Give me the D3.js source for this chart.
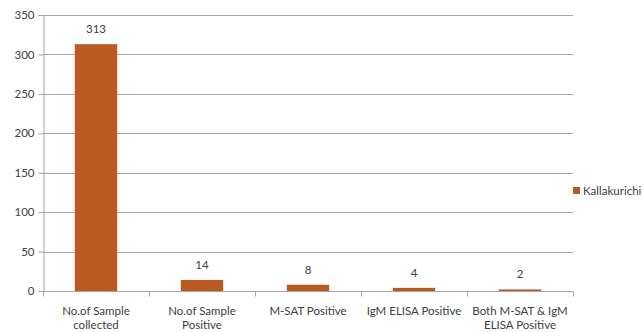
<!DOCTYPE html>
<html>
<head>
<meta charset="utf-8">
<script src="https://cdn.jsdelivr.net/npm/d3@7"></script>
<style>
  html, body { margin: 0; padding: 0; background: #fff; }
  svg text { font-family: Lato, "Open Sans", "Liberation Sans", sans-serif; fill: #404040; }
</style>
</head>
<body>
<svg id="chart" width="643" height="332"></svg>
<script>
// Sample testing summary, Kallakurichi district
const categories = [
  ["No.of Sample", "collected"],
  ["No.of Sample", "Positive"],
  ["M-SAT Positive"],
  ["IgM ELISA Positive"],
  ["Both M-SAT & IgM", "ELISA Positive"]
];
const values = [313, 14, 8, 4, 2];
const yTicks = [0, 50, 100, 150, 200, 250, 300, 350];
const seriesName = "Kallakurichi";

const barColor = "#B95B20";
const gridColor = "#A6A6A6";

const svg = d3.select("#chart");
const margin = { left: 43, right: 70, top: 15, bottom: 41 };
const W = 643, H = 332;
const x0 = margin.left, x1 = 573;
const y0 = H - margin.bottom, y1 = margin.top;

const idx = categories.map((d, i) => i);
const x = d3.scaleBand().domain(idx).range([x0, x1]).paddingInner(0.6).paddingOuter(0.3);
const xEdges = d3.scaleBand().domain(idx).range([x0, x1]).padding(0);
const y = d3.scaleLinear().domain([0, 350]).range([y0, y1]);

// horizontal gridlines
svg.append("g").selectAll("line").data(yTicks.filter(t => t > 0)).join("line")
  .attr("x1", x0).attr("x2", x1)
  .attr("y1", d => Math.round(y(d)) + 0.5).attr("y2", d => Math.round(y(d)) + 0.5)
  .attr("stroke", gridColor).attr("stroke-width", 1);

// y axis
const yAxis = svg.append("g").attr("transform", `translate(${x0 + 0.5},0)`)
  .call(d3.axisLeft(y).tickValues(yTicks).tickSize(5).tickPadding(4));
yAxis.select(".domain").attr("stroke", gridColor);
yAxis.selectAll(".tick line").attr("stroke", gridColor);
yAxis.selectAll(".tick text").attr("font-size", 11.5).attr("fill", "#404040")
  .attr("font-family", "Lato, 'Open Sans', sans-serif");

// bars
svg.append("g").selectAll("rect").data(values).join("rect")
  .attr("x", (d, i) => x(i)).attr("width", x.bandwidth())
  .attr("y", d => y(d)).attr("height", d => y(0) - y(d))
  .attr("fill", barColor);

// x axis with ticks at category boundaries
const xa = svg.append("g").attr("transform", `translate(0,${Math.round(y0) + 0.5})`);
xa.append("line").attr("x1", x0).attr("x2", x1).attr("stroke", gridColor);
const edges = idx.map(i => xEdges(i)).concat([x1]);
xa.selectAll("line.tk").data(edges).join("line").attr("class", "tk")
  .attr("x1", d => Math.round(d) + 0.5).attr("x2", d => Math.round(d) + 0.5)
  .attr("y1", 0).attr("y2", 5).attr("stroke", gridColor);

// category labels
const lab = svg.append("g").selectAll("text").data(categories).join("text")
  .attr("text-anchor", "middle").attr("font-size", 11.5)
  .attr("x", (d, i) => xEdges(i) + xEdges.bandwidth() / 2)
  .attr("y", y0 + 24);
lab.selectAll("tspan").data(d => d).join("tspan")
  .attr("x", function () { return this.parentNode.getAttribute("x"); })
  .attr("dy", (d, i) => i === 0 ? 0 : 13.5)
  .text(d => d);

// value labels
svg.append("g").selectAll("text").data(values).join("text")
  .attr("text-anchor", "middle").attr("font-size", 11.5)
  .attr("x", (d, i) => x(i) + x.bandwidth() / 2)
  .attr("y", d => y(d) - 11)
  .text(d => d);

// legend
const lg = svg.append("g").attr("transform", "translate(573,187)");
lg.append("rect").attr("width", 7).attr("height", 7).attr("fill", barColor);
lg.append("text").attr("x", 10).attr("y", 7.5).attr("font-size", 11.5).text(seriesName);
</script>
</body>
</html>
